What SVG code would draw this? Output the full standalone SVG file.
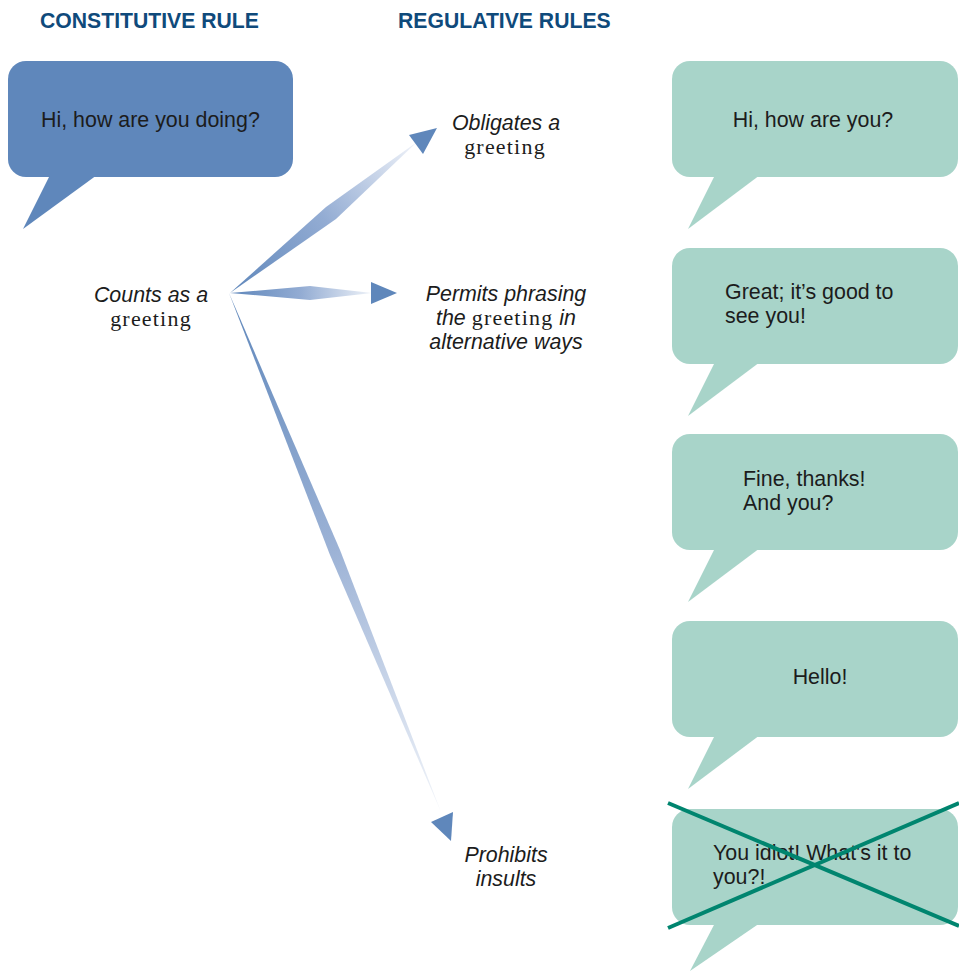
<svg xmlns="http://www.w3.org/2000/svg" width="959" height="971" viewBox="0 0 959 971">
<defs>
<style>
.hdr{font-family:"Liberation Sans",Arial,sans-serif;font-weight:bold;font-size:21.2px;fill:#0f4a7b}
.txt{font-family:"Liberation Sans",Arial,sans-serif;font-size:21.4px;fill:#1c1c1c}
.lbl{font-family:"Liberation Sans",Arial,sans-serif;font-style:italic;font-size:21.4px;fill:#1c1c1c;text-anchor:middle}
.srf{font-family:"Liberation Serif","Times New Roman",serif;font-style:normal;font-size:22px;letter-spacing:1.2px}
.blue{fill:#5f87bb}
.green{fill:#a8d4c9}
.head{fill:#5f87bb}
</style>
<linearGradient id="g1" gradientUnits="userSpaceOnUse" x1="230" y1="293" x2="417" y2="143">
<stop offset="0" stop-color="#5f87bb"/><stop offset="0.5" stop-color="#93acd3"/><stop offset="1" stop-color="#f0f3f9"/>
</linearGradient>
<linearGradient id="g2" gradientUnits="userSpaceOnUse" x1="230" y1="293" x2="372" y2="293">
<stop offset="0" stop-color="#5f87bb"/><stop offset="0.5" stop-color="#93acd3"/><stop offset="1" stop-color="#eef2f8"/>
</linearGradient>
<linearGradient id="g3" gradientUnits="userSpaceOnUse" x1="229" y1="293" x2="441" y2="812">
<stop offset="0" stop-color="#5f87bb"/><stop offset="0.5" stop-color="#9db3d6"/><stop offset="1" stop-color="#f2f5fa"/>
</linearGradient>
</defs>
<rect width="959" height="971" fill="#ffffff"/>

<text class="hdr" x="40" y="28">CONSTITUTIVE RULE</text>
<text class="hdr" x="398" y="28">REGULATIVE RULES</text>

<g id="constitutive">
<rect class="blue" x="8" y="61" width="285" height="116" rx="18"/>
<polygon class="blue" points="50,175 97,175 23,229"/>
<text class="txt" x="41" y="127">Hi, how are you doing?</text>
</g>

<g id="counts">
<text class="lbl" x="151" y="302">Counts as a</text>
<text class="lbl srf" x="151" y="326" style="text-anchor:middle">greeting</text>
</g>

<g id="obligates">
<text class="lbl" x="506" y="130">Obligates a</text>
<text class="lbl srf" x="505" y="154">greeting</text>
</g>

<g id="permits">
<text class="lbl" x="506" y="301">Permits phrasing</text>
<text class="lbl" x="506" y="325">the <tspan class="srf">greeting</tspan> in</text>
<text class="lbl" x="506" y="349">alternative ways</text>
</g>

<g id="prohibits">
<text class="lbl" x="506" y="862">Prohibits</text>
<text class="lbl" x="506" y="886">insults</text>
</g>

<g id="bubble1">
<rect class="green" x="672" y="61" width="286" height="116" rx="18"/>
<polygon class="green" points="715,175 760,175 688,229"/>
<text class="txt" x="813" y="127" text-anchor="middle">Hi, how are you?</text>
</g>
<g id="bubble2">
<rect class="green" x="672" y="248" width="286" height="116" rx="18"/>
<polygon class="green" points="715,362 760,362 688,416"/>
<text class="txt" x="725" y="299">Great; it’s good to</text>
<text class="txt" x="725" y="323">see you!</text>
</g>
<g id="bubble3">
<rect class="green" x="672" y="434" width="286" height="116" rx="18"/>
<polygon class="green" points="715,548 760,548 688,602"/>
<text class="txt" x="743" y="486">Fine, thanks!</text>
<text class="txt" x="743" y="510">And you?</text>
</g>
<g id="bubble4">
<rect class="green" x="672" y="621" width="286" height="116" rx="18"/>
<polygon class="green" points="715,735 760,735 688,789"/>
<text class="txt" x="820" y="684" text-anchor="middle">Hello!</text>
</g>
<g id="bubble5">
<rect class="green" x="672" y="809" width="286" height="116" rx="18"/>
<polygon class="green" points="715,923 760,923 690,971"/>
<text class="txt" x="713" y="860">You idiot! What's it to</text>
<text class="txt" x="713" y="884">you?!</text>
<line x1="668" y1="803" x2="959" y2="926" stroke="#00856f" stroke-width="4"/>
<line x1="668" y1="928" x2="959" y2="803" stroke="#00856f" stroke-width="4"/>
</g>

<g id="connectors">
<polygon fill="url(#g1)" points="230,293 326,207 417,142 336,219"/>
<polygon class="head" points="409,135 437,128 423,154"/>
<polygon fill="url(#g2)" points="230,293 310,286 372,293 310,300"/>
<polygon class="head" points="371,282 397,293 371,304"/>
<polygon fill="url(#g3)" points="229,293 340,550 441,812 330,555"/>
<polygon class="head" points="431,822 453,812 451,841"/>
</g>
</svg>
